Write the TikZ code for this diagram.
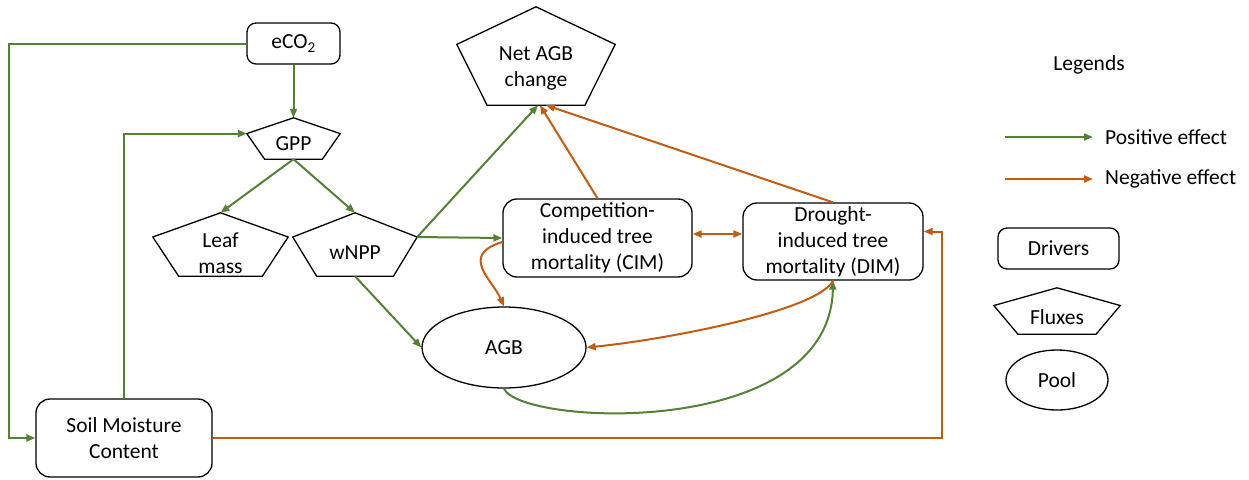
\documentclass[tikz,border=0pt]{standalone}
\usepackage{fontspec}
\setmainfont{Carlito}
\usetikzlibrary{arrows.meta,calc,shapes.geometric}

\definecolor{posgreen}{RGB}{84,130,53}
\definecolor{negorange}{RGB}{197,90,17}

\tikzset{
	txt/.style={font=\fontsize{21.5}{26}\selectfont, align=center, inner sep=0pt},
	outline/.style={draw=black, line width=1.3pt},
	driver/.style={txt, outline, rounded corners=9pt},
	pool/.style={txt, outline, ellipse},
	fluxbox/.style={rectangle, inner sep=0pt},
	posarrow/.style={draw=posgreen, line width=2pt, ->},
	negarrow/.style={draw=negorange, line width=2pt, ->},
}

% pentagon for a flux: name, centre, width, height, text
\newcommand{\fluxnode}[5]{%
	\node[fluxbox, minimum width=#3pt, minimum height=#4pt] (#1) at (#2) {};
	\coordinate (#1-w) at ($(#1.north west)!0.382!(#1.south west)$);
	\coordinate (#1-e) at ($(#1.north east)!0.382!(#1.south east)$);
	\draw[outline] (#1.north) -- (#1-e) -- ($(#1.south east)!0.191!(#1.south west)$)
		-- ($(#1.south west)!0.191!(#1.south east)$) -- (#1-w) -- cycle;
	\node[txt] (#1-txt) at ($(#1.center)!0.26!(#1.south)$) {#5};
}

\begin{document}
\begin{tikzpicture}[x=1pt,y=-1pt,>={Triangle[length=9pt,width=7pt]}]
	\useasboundingbox (0,0) rectangle (1249,479);

	% drivers, fluxes and pool
	\node[driver, minimum width=93pt, minimum height=41pt] (eco2) at (293.5,43.5) {eCO\textsubscript{2}};
	\fluxnode{gpp}{293.5,138.5}{93}{41}{GPP}
	\fluxnode{leaf}{220.5,244.5}{135}{63}{Leaf\\mass}
	\fluxnode{wnpp}{355,244.5}{124}{63}{wNPP}
	\fluxnode{net}{536,56}{158}{98}{Net AGB\\change}
	\node[driver, minimum width=189pt, minimum height=78pt, rounded corners=14pt] (cim) at (597.5,238) {Competition-\\induced tree\\mortality (CIM)};
	\node[driver, minimum width=180pt, minimum height=77pt, rounded corners=14pt] (dim) at (833,241.5) {Drought-\\induced tree\\mortality (DIM)};
	\node[pool, minimum width=164pt, minimum height=81pt] (agb) at (504,347.5) {AGB};
	\node[driver, minimum width=176pt, minimum height=78pt, rounded corners=14pt] (soil) at (124,438) {Soil Moisture\\Content};

	% positive effects
	\draw[posarrow] (eco2.west) -| ([xshift=-26pt]soil.west) -- (soil.west);
	\draw[posarrow] (eco2.south) -- (gpp.north);
	\draw[posarrow] (soil.north) |- (gpp-w);
	\draw[posarrow] (gpp.south) -- (leaf.north);
	\draw[posarrow] (gpp.south) -- (wnpp.north);
	\draw[posarrow] (wnpp-e) -- ([xshift=2pt]net.south);
	\draw[posarrow] (wnpp-e) -- (cim.west);
	\draw[posarrow] (wnpp.south) -- (agb.west);
	\draw[posarrow] (agb.south) .. controls +(16,37) and +(-3,160) .. (dim.south);

	% negative effects
	\draw[negarrow] (cim.north) -- ([xshift=4pt]net.south);
	\draw[negarrow] (dim.north) -- ([xshift=10pt]net.south);
	\draw[negarrow,<->] ([yshift=4pt]cim.east) -- ([yshift=7.5pt]dim.west);
	\draw[negarrow] (soil.east) -| ([xshift=18pt,yshift=10pt]dim.east) -- ([yshift=10pt]dim.east);
	\draw[negarrow] ([yshift=-4pt]cim.west) .. controls +(-43,13) and +(-12,-27) .. (agb.north);
	\draw[negarrow] (dim.south) .. controls +(-15,30) and +(80,-8) .. (agb.east);

	% legend
	\node[txt] (legtitle) at (1089,65) {Legends};
	\node[txt, anchor=west] (postxt) at (1105,137) {Positive effect};
	\draw[posarrow] ([xshift=-100pt]postxt.west) -- ([xshift=-12pt]postxt.west);
	\node[txt, anchor=west] (negtxt) at (1105,179) {Negative effect};
	\draw[negarrow] ([xshift=-100pt]negtxt.west) -- ([xshift=-12pt]negtxt.west);
	\node[driver, minimum width=121pt, minimum height=41pt] (drv) at (1058.5,248.5) {Drivers};
	\fluxnode{flx}{1057,311}{126}{46}{Fluxes}
	\node[pool, minimum width=102pt, minimum height=60pt] (pl) at (1057,380) {Pool};
\end{tikzpicture}
\end{document}
